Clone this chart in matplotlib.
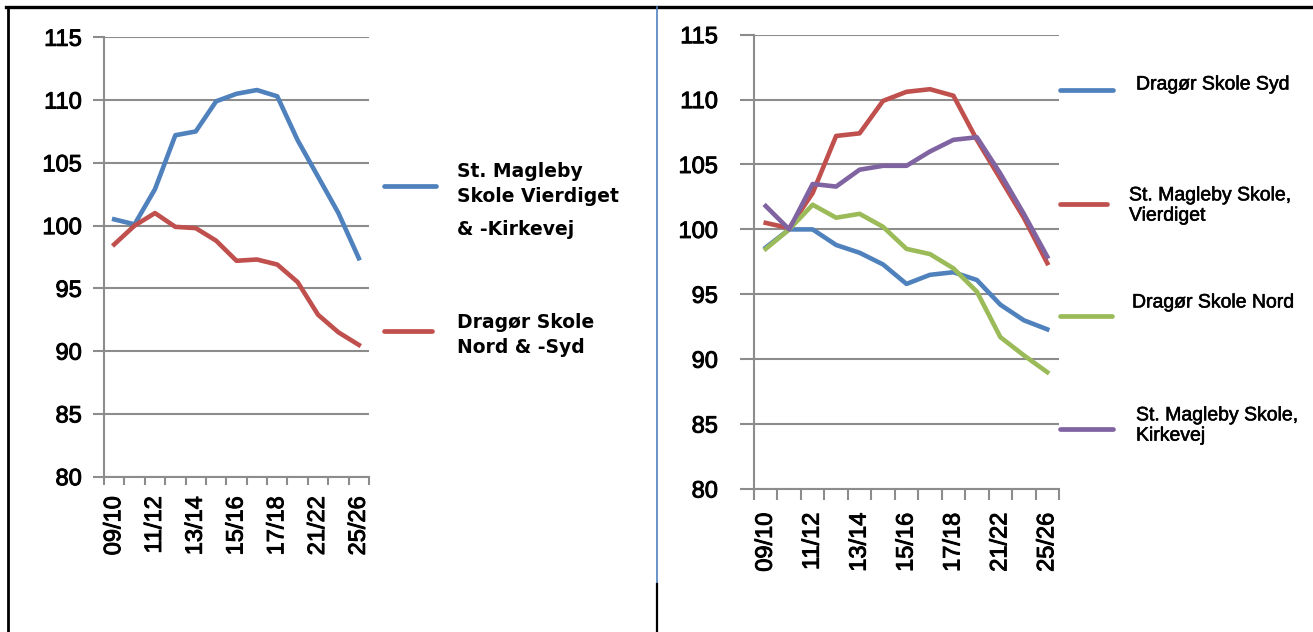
import matplotlib
matplotlib.use("Agg")
import matplotlib.pyplot as plt
import matplotlib.patheffects as pe
from matplotlib.lines import Line2D

# school years on the x axis (only every other one is labelled)
YEARS = ["09/10", "10/11", "11/12", "12/13", "13/14", "14/15", "15/16",
         "16/17", "17/18", "19/20", "21/22", "23/24", "25/26"]

# left chart: combined schools
MAGLEBY_BOTH = [100.5, 100.1, 102.9, 107.2, 107.5, 109.9, 110.5, 110.8, 110.3, 106.8, 103.9, 101.0, 97.4]
DRAGOR_BOTH = [98.5, 100.0, 101.0, 99.9, 99.8, 98.8, 97.2, 97.3, 96.9, 95.5, 92.9, 91.5, 90.5]
LEFT_LABELS = ["St. Magleby\nSkole Vierdiget", "Dragør Skole\nNord & -Syd"]

# right chart: single schools
DRAGOR_SYD = [98.6, 100.0, 100.0, 98.8, 98.2, 97.3, 95.8, 96.5, 96.7, 96.1, 94.2, 93.0, 92.3]
MAGLEBY_VIERDIGET = [100.5, 100.1, 102.8, 107.2, 107.4, 109.9, 110.6, 110.8, 110.3, 106.9, 103.9, 100.9, 97.4]
DRAGOR_NORD = [98.5, 100.0, 101.9, 100.9, 101.2, 100.2, 98.5, 98.1, 97.0, 95.2, 91.7, 90.3, 89.0]
MAGLEBY_KIRKEVEJ = [101.8, 100.0, 103.5, 103.3, 104.6, 104.9, 104.9, 106.0, 106.9, 107.1, 104.3, 101.2, 97.9]
RIGHT_LABELS = ["Dragør Skole Syd", "St. Magleby Skole,\nVierdiget", "Dragør Skole Nord",
                "St. Magleby Skole,\nKirkevej"]

BLUE = "#4F81BD"
RED = "#C0504D"
GREEN = "#9BBB59"
PURPLE = "#8064A2"
GRID = "#8C8C8C"

W, H = 1313, 632
plt.rcParams["font.family"] = ["Liberation Sans", "DejaVu Sans"]

fig = plt.figure(figsize=(W / 100, H / 100), dpi=100)
heavy = [pe.withStroke(linewidth=0.7, foreground="black")]


def px(x, y):
    # pixel position (from top left) -> figure fraction
    return x / W, 1 - y / H


def axes_px(x0, x1, ytop, ybot):
    return fig.add_axes([x0 / W, 1 - ybot / H, (x1 - x0) / W, (ybot - ytop) / H])


def style_axes(ax, ytick_len, ypad, xtick_len, xpad):
    n = len(YEARS)
    ax.set_xlim(-0.5, n - 0.5)
    ax.set_ylim(80, 115)
    ax.set_yticks(range(80, 116, 5))
    ax.yaxis.grid(True, color=GRID, linewidth=1.5)
    ax.set_axisbelow(True)
    for s in ["top", "right"]:
        ax.spines[s].set_visible(False)
    for s in ["left", "bottom"]:
        ax.spines[s].set_color(GRID)
        ax.spines[s].set_linewidth(1.5)
    ax.tick_params(axis="y", length=ytick_len, width=1.5, color=GRID, pad=ypad, labelsize=17)
    # tick marks between categories, labels at every second category
    ax.set_xticks([i - 0.5 for i in range(n + 1)])
    ax.set_xticklabels([])
    ax.set_xticks(range(0, n, 2), minor=True)
    ax.set_xticklabels(YEARS[::2], minor=True, rotation=90, fontsize=17)
    ax.tick_params(axis="x", which="major", length=xtick_len, width=1.5, color=GRID)
    ax.tick_params(axis="x", which="minor", length=0, pad=xtick_len + xpad)
    for lab in ax.get_yticklabels() + ax.get_xticklabels(minor=True):
        lab.set_path_effects(heavy)


def legend_entry(x0, x1, yline, color, tx, ty, text, **kw):
    fig.add_artist(Line2D([x0 / W, x1 / W], [1 - yline / H] * 2, color=color,
                          linewidth=3.4, solid_capstyle="round"))
    fig.text(*px(tx, ty), text, va="center", ha="left", **kw)


# ---- left chart
ax1 = axes_px(104, 369, 37.3, 476.7)
x = range(len(YEARS))
ax1.plot(x, MAGLEBY_BOTH, color=BLUE, linewidth=3.3)
ax1.plot(x, DRAGOR_BOTH, color=RED, linewidth=3.3)
style_axes(ax1, 8, 8, 6, 8)

bold = dict(fontsize=13.5, fontweight="bold", family=["DejaVu Sans"], linespacing=1.35)
legend_entry(384, 436, 185.5, BLUE, 457, 184, LEFT_LABELS[0], **bold)
fig.text(*px(457, 230), "& -Kirkevej", va="center", ha="left", **bold)
legend_entry(384, 432, 330.5, RED, 457, 335, LEFT_LABELS[1], **bold)

# ---- right chart
ax2 = axes_px(754, 1059, 34.7, 489)
ax2.plot(x, DRAGOR_SYD, color=BLUE, linewidth=3.3)
ax2.plot(x, MAGLEBY_VIERDIGET, color=RED, linewidth=3.3)
ax2.plot(x, DRAGOR_NORD, color=GREEN, linewidth=3.3)
ax2.plot(x, MAGLEBY_KIRKEVEJ, color=PURPLE, linewidth=3.3)
style_axes(ax2, 10, 16, 8, 9)

reg = dict(fontsize=14, linespacing=1.25, path_effects=[pe.withStroke(linewidth=0.4, foreground="black")])
legend_entry(1060, 1113, 90, BLUE, 1136, 85, RIGHT_LABELS[0], **reg)
legend_entry(1060, 1107, 203.5, RED, 1129, 206, RIGHT_LABELS[1], **reg)
legend_entry(1060, 1112, 315.5, GREEN, 1132, 303, RIGHT_LABELS[2], **reg)
legend_entry(1060, 1113, 428.5, PURPLE, 1136, 426, RIGHT_LABELS[3], **reg)

# ---- table borders around the two charts
def border(xs, ys, color, lw):
    fig.add_artist(Line2D([v / W for v in xs], [1 - v / H for v in ys], color=color, linewidth=lw))

border([6, W], [7, 7], "black", 2.4)
border([7.5, 7.5], [7, H], "black", 2)
border([657.3, 657.3], [7, 584], BLUE, 1.2)
border([656.8, 656.8], [584, H], "black", 1.6)

fig.savefig("out.png", dpi=100)
